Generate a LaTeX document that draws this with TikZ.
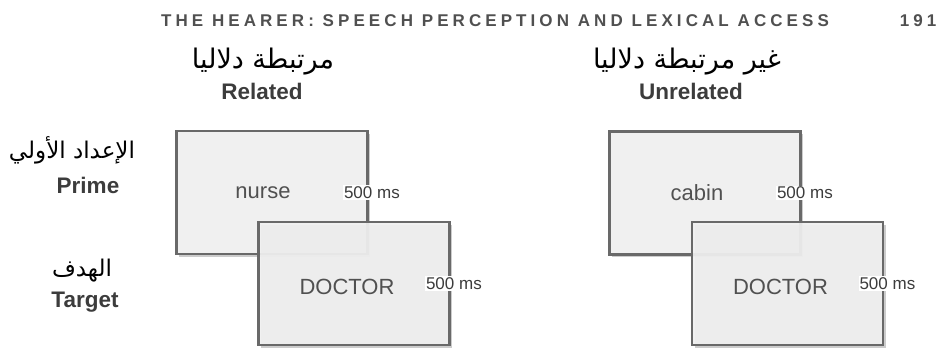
\documentclass[tikz,border=0pt]{standalone}
\usepackage{fontspec}
\setmainfont{Liberation Sans}
\newfontfamily\arabicfont[Script=Arabic]{DejaVu Sans}
\newfontfamily\headfont[LetterSpace=24]{Liberation Sans}
\TeXXeTstate=1
\usetikzlibrary{shadows}
\definecolor{boxgray}{RGB}{240,240,240}
\definecolor{edgegray}{RGB}{105,105,105}
\definecolor{txtgray}{RGB}{60,60,60}
\definecolor{wordgray}{RGB}{80,80,80}

\begin{document}
\begin{tikzpicture}[x=1pt, y=-1pt,
  stimbox/.style={draw=edgegray, line width=2.8pt, fill=boxgray, minimum width=191pt, minimum height=123pt,
    drop shadow={shadow xshift=2.5pt, shadow yshift=-2.5pt, opacity=.4}},
  word/.style={text=wordgray, font=\fontsize{22}{24}\selectfont},
  dur/.style={fill=white, inner sep=1pt, text=txtgray, font=\fontsize{17}{19}\selectfont},
  eng/.style={text=txtgray, font=\bfseries\fontsize{22.5}{24}\selectfont},
  arab/.style={text=black, font=\arabicfont\fontsize{27}{29}\selectfont},
  rowarab/.style={text=black, font=\arabicfont\fontsize{23}{25}\selectfont},
  head/.style={text=wordgray, font=\headfont\bfseries\fontsize{17}{19}\selectfont}]
\useasboundingbox (0,0) rectangle (939,351);
\node[head] at (495, 21) (title) {THE HEARER: SPEECH PERCEPTION AND LEXICAL ACCESS};
\node[head] at (918, 21) (page) {191};
% column heads
\node[arab] at (263, 62) (relar) {\beginR مرتبطة دلاليا\endR};
\node[eng]  at (262, 91) (rel) {Related};
\node[arab] at (687, 62) (unrar) {\beginR غير مرتبطة دلاليا\endR};
\node[eng]  at (691, 91) (unr) {Unrelated};
% row heads
\node[rowarab] at (72, 150) (primear) {\beginR الإعداد الأولي\endR};
\node[eng]  at (88, 185) (prime) {Prime};
\node[rowarab] at (82, 271) (targetar) {\beginR الهدف\endR};
\node[eng]  at (85, 302) (target) {Target};
% related
\node[stimbox] at (272, 192.5) (relprime) {};
\node[word, xshift=-9pt] at (relprime) (nurse) {nurse};
\node[dur, xshift=3pt] at (relprime.east) (relprimems) {500 ms};
\node[stimbox, fill opacity=.92] at (354, 283.5) (reltarget) {};
\node[word, xshift=-7pt, yshift=-3pt] at (reltarget) (reldoc) {DOCTOR};
\node[dur, xshift=3pt] at (reltarget.east) (reltargetms) {500 ms};
% unrelated
\node[stimbox] at (705, 193) (unrprime) {};
\node[word, xshift=-8pt] at (unrprime) (cabin) {cabin};
\node[dur, xshift=3pt] at (unrprime.east) (unrprimems) {500 ms};
\node[stimbox, fill opacity=.92] at (787.5, 283.5) (unrtarget) {};
\node[word, xshift=-7pt, yshift=-3pt] at (unrtarget) (unrdoc) {DOCTOR};
\node[dur, xshift=3pt] at (unrtarget.east) (unrtargetms) {500 ms};
\end{tikzpicture}
\end{document}
